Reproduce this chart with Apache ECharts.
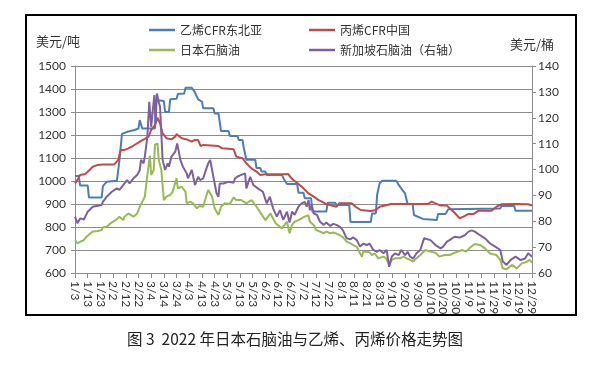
<!DOCTYPE html>
<html><head><meta charset="utf-8">
<script src="https://cdn.jsdelivr.net/npm/echarts@6/dist/echarts.min.js"></script>
<style>html,body{margin:0;padding:0;background:#fff}#c{width:590px;height:368px}</style>
</head><body><div id="c"></div>
<script>
// x = day offset from 1/3 (2022)
const tickLabels = ['1/3','1/13','1/23','2/2','2/12','2/22','3/4','3/14','3/24','4/3','4/13','4/23','5/3','5/13','5/23','6/2','6/12','6/22','7/2','7/12','7/22','8/1','8/11','8/21','8/31','9/10','9/20','9/30','10/10','10/20','10/30','11/9','11/19','11/29','12/9','12/19','12/29'];
const seriesNames = ['乙烯CFR东北亚','丙烯CFR中国','日本石脑油','新加坡石脑油（右轴）'];
const ethylene = [[0,1022],[3,1022],[4,980],[10,980],[11,928],[21,928],[22,978],[25,997],[33,1001],[35,1090],[37,1205],[42,1215],[47,1222],[50,1228],[51,1265],[53,1228],[63,1228],[64,1352],[70,1348],[71,1300],[74,1300],[75,1355],[80,1358],[81,1378],[86,1380],[87,1405],[92,1405],[94,1390],[97,1355],[100,1345],[101,1316],[109,1316],[110,1294],[113,1294],[114,1258],[115,1217],[121,1217],[122,1196],[128,1196],[129,1178],[132,1178],[133,1142],[135,1092],[142,1092],[143,1056],[146,1056],[147,1041],[150,1041],[151,1026],[163,1026],[165,1004],[167,987],[175,987],[176,949],[180,949],[181,925],[186,925],[187,867],[198,867],[199,905],[205,905],[206,896],[216,896],[217,822],[233,822],[234,859],[237,859],[238,940],[240,990],[242,1001],[253,1001],[255,983],[258,960],[260,946],[262,900],[266,900],[267,852],[274,835],[275,830],[285,830],[286,857],[292,857],[294,877],[335,880],[336,891],[346,891],[347,871],[360,871]];
const propylene = [[0,990],[2,1005],[4,1026],[8,1030],[10,1040],[14,1062],[18,1070],[22,1072],[31,1072],[34,1091],[36,1135],[39,1135],[42,1142],[45,1150],[49,1164],[52,1174],[55,1183],[58,1193],[60,1222],[63,1243],[65,1275],[67,1251],[69,1207],[72,1186],[76,1181],[79,1193],[80,1204],[84,1186],[88,1181],[92,1171],[94,1178],[97,1178],[99,1152],[101,1157],[113,1152],[116,1142],[125,1138],[127,1106],[132,1099],[135,1077],[139,1055],[143,1041],[146,1026],[150,1029],[165,1029],[168,1030],[170,1015],[172,1004],[176,987],[180,968],[184,946],[188,932],[192,917],[196,906],[198,899],[201,896],[206,888],[208,903],[218,903],[221,888],[225,874],[233,870],[237,874],[240,888],[246,896],[249,900],[278,900],[281,910],[284,903],[288,893],[293,893],[296,877],[299,862],[303,838],[306,845],[310,857],[314,857],[318,871],[328,871],[332,888],[336,899],[347,900],[357,899],[360,893]];
const japanNaphtha = [[0,743],[2,729],[4,736],[7,743],[9,758],[12,772],[14,780],[18,783],[21,787],[22,799],[25,801],[28,816],[30,823],[33,833],[35,845],[38,830],[39,845],[42,859],[43,867],[46,845],[49,859],[51,888],[53,910],[55,932],[57,1026],[59,1110],[60,1026],[62,1048],[63,1157],[65,1164],[66,1091],[68,1048],[70,917],[72,932],[75,939],[77,954],[80,1012],[81,968],[84,975],[87,954],[88,903],[91,910],[93,903],[96,881],[98,891],[101,888],[104,946],[105,961],[108,932],[110,881],[113,852],[115,888],[118,903],[122,900],[125,929],[127,917],[131,917],[135,903],[139,917],[143,888],[150,830],[154,859],[158,816],[163,794],[167,823],[169,773],[171,809],[173,823],[176,830],[178.5,838],[181,845],[183.8,852],[185,823],[188,809],[190,787],[193,780],[196,773],[198,780],[201,773],[203.5,776],[206,771],[209,762],[211,756],[214,736],[217,729],[219,722],[222,714],[224.5,686],[226,671],[227,693],[232,690],[234,678],[236,685],[239,664],[240,657],[243,671],[245,664],[247.6,635],[249.5,657],[252,664],[256,664],[259,671],[261,664],[264,657],[266.5,650],[269,664],[272,678],[276,700],[280,693],[284,688],[287,671],[291,678],[295,678],[299,688],[305,700],[308,693],[312,714],[315,726],[319,722],[323,707],[327,685],[332,678],[335,657],[337,620],[340,616],[344,635],[348,620],[352,642],[356,649],[358,657],[360,646]];
const singaporeNaphtha = [[0,81.8],[2,79.2],[4,81.1],[7,80.7],[10,83.7],[14,85.6],[18,86],[21,86.3],[22,87.5],[25,89.5],[29,91.4],[33,92.7],[35,92.1],[38,94],[41,95.9],[43,94.6],[46,96.6],[49,97.9],[51,99.8],[52,103.7],[54,102.4],[55,105],[57,112.7],[58.5,126.2],[60,116.5],[62.5,128.8],[63.5,118],[64.5,129.4],[66,126],[67,124.3],[69,103.7],[71,99.8],[73,102.4],[74,101.1],[76,105],[79,106.9],[80.5,110.1],[83,103.7],[85,101.1],[88,98.5],[89,96.6],[92,99.8],[94.5,94],[97,97.2],[98.5,95.9],[101,96.6],[104,101.1],[105,102.4],[106.5,103.7],[109,97.2],[111.5,90.8],[113,89.5],[114,94.6],[117,94.6],[121,95.3],[125,94.9],[126,96.6],[129,97.5],[131,97.9],[134,98.5],[135,92.7],[138,97.2],[140.5,94],[144,92.7],[148,91.4],[151,86.9],[153.5,89.5],[156,85],[159,81.8],[161.5,84.3],[164,80.5],[167,83.7],[169,79.5],[171,83.7],[173,82.5],[176,85.6],[178.5,86.9],[181,87.5],[182.5,85.6],[184,88.2],[185,84.3],[186.5,86.3],[188,83.1],[190.5,82.5],[193,79.8],[196,78.6],[198,79.5],[201,78.2],[203.5,79],[206,78.6],[209,77.7],[211,76.6],[214,73.4],[217,73],[219,73.8],[222,72.7],[224.5,70.2],[227,71.3],[230,70.8],[232,71.4],[235,68.9],[238,68.2],[240,68.9],[243,67.6],[245.5,68.9],[247.5,62.4],[249.5,66.3],[252,67.6],[255,66.9],[257,68.9],[260,66.9],[262,68.2],[264,66.3],[266.5,65.6],[269,67.6],[272,68.9],[275,73.4],[280,72.7],[284,70.8],[288,69.5],[290,70.2],[293,72.1],[295,72.7],[299,74],[303,73.7],[307,74.6],[310,76],[312.5,76.5],[315,76],[319,74.6],[323,73.4],[327,71.4],[331,70.2],[335,68.9],[337,64.4],[340,63.1],[343,65],[347,66.3],[351,65],[354.5,65.6],[357,67.6],[360,66.3]];

const colors = ['#4A7EBB','#BE4B48','#98B954','#7D60A0'];
const numFont = 'Lato, "Noto Sans", sans-serif';
const cjkFont = '"Noto Sans CJK SC", sans-serif';
const gridGray = '#8c8c8c';

const chart = echarts.init(document.getElementById('c'), null, {renderer:'canvas'});
function mkLegend(name, left, top){
  return {data:[name], left:left, top:top, icon:'rect', itemWidth:26, itemHeight:2.5, itemGap:0,
    textStyle:{fontFamily:cjkFont, fontSize:12, color:'#333', padding:[0,0,0,0]}, padding:0, selectedMode:false};
}
chart.setOption({
  animation:false,
  color:colors,
  grid:{left:75, right:58, top:66, bottom:95, outerBoundsMode:'none', containLabel:false},
  legend:[
    mkLegend(seriesNames[0],149,24),
    mkLegend(seriesNames[1],309,24),
    mkLegend(seriesNames[2],149,44),
    mkLegend(seriesNames[3],309,44)
  ],
  xAxis:{type:'value', min:0, max:360, interval:10,
    axisLine:{show:true, onZero:false, lineStyle:{color:gridGray, width:1}},
    axisTick:{show:true, length:5, lineStyle:{color:gridGray}},
    splitLine:{show:false},
    axisLabel:{rotate:-90, margin:8, fontFamily:numFont, fontSize:12, color:'#333',
      formatter:function(v){return tickLabels[Math.round(v/10)]||'';}}
  },
  yAxis:[
    {type:'value', min:600, max:1500, interval:100, position:'left',
      axisLine:{show:true, lineStyle:{color:gridGray}},
      axisTick:{show:true, length:4, lineStyle:{color:gridGray}},
      splitLine:{show:true, lineStyle:{color:gridGray, width:1}},
      axisLabel:{margin:9, fontFamily:numFont, fontSize:12, color:'#333', formatter:function(v){return String(v);}}},
    {type:'value', min:60, max:140, interval:10, position:'right',
      axisLine:{show:true, lineStyle:{color:gridGray}},
      axisTick:{show:true, length:4, lineStyle:{color:gridGray}},
      splitLine:{show:false},
      axisLabel:{margin:6, fontFamily:numFont, fontSize:12, color:'#333', formatter:function(v){return String(v);}}}
  ],
  series:[
    {name:seriesNames[0], type:'line', yAxisIndex:0, data:ethylene, showSymbol:false, lineStyle:{width:2}},
    {name:seriesNames[1], type:'line', yAxisIndex:0, data:propylene, showSymbol:false, lineStyle:{width:2}},
    {name:seriesNames[2], type:'line', yAxisIndex:0, data:japanNaphtha, showSymbol:false, lineStyle:{width:2}},
    {name:seriesNames[3], type:'line', yAxisIndex:1, data:singaporeNaphtha, showSymbol:false, lineStyle:{width:2}}
  ],
  graphic:[
    {type:'rect', shape:{x:26, y:15, width:550, height:300}, style:{fill:null, stroke:'#000', lineWidth:2}, silent:true, z:-1},
    {type:'text', left:36, top:35, style:{text:'美元/吨', font:'13px "Noto Sans CJK SC", sans-serif', fill:'#333'}},
    {type:'text', left:510, top:38, style:{text:'美元/桶', font:'13px "Noto Sans CJK SC", sans-serif', fill:'#333'}},
    {type:'text', left:'center', top:331, style:{text:'图 3  2022 年日本石脑油与乙烯、丙烯价格走势图', font:'15.5px "Noto Sans CJK SC", sans-serif', fill:'#222'}}
  ]
});
</script></body></html>
